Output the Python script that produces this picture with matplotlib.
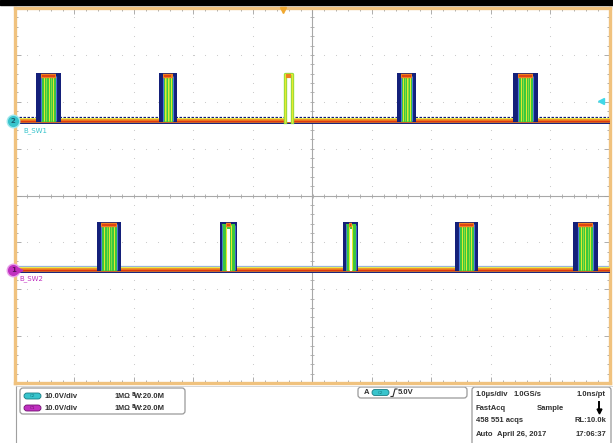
import numpy as np
import matplotlib
matplotlib.use("Agg")
import matplotlib.pyplot as plt
from matplotlib.patches import FancyBboxPatch, Rectangle

# time in us (1.0 us/div, 10 div), amplitude in V (10 V/div)
ch1_rise_start = [-4.65, -2.58, -0.46, 1.42, 3.37]
ch1_rise_end = [-4.56, -2.51, -0.46, 1.49, 3.45]
ch1_fall_start = [-4.31, -2.35, -0.35, 1.67, 3.71]
ch1_fall_end = [-4.23, -2.28, -0.35, 1.74, 3.79]
ch1_high = 10.0
ch1_pos = 1.59  # div

ch2_rise_start = [-3.62, -1.56, 0.52, 2.40, 4.38]
ch2_rise_end = [-3.55, -1.45, 0.61, 2.46, 4.46]
ch2_fall_start = [-3.29, -1.37, 0.67, 2.71, 4.71]
ch2_fall_end = [-3.22, -1.27, 0.77, 2.78, 4.80]
ch2_high = 10.0
ch2_pos = -1.58

volts_per_div = 10.0
trig_time = -0.5
trig_level = 5.0

NAVY = "#14207a"
BLUE = "#4a78d8"
GREEN = "#3cc83c"
GREEN_L = "#8edc3c"
YELLOW = "#e8e830"
ORANGE = "#f08020"
RED = "#e03810"
FRAME = "#f0c27e"
CYAN = "#38c4cc"
MAGENTA = "#c030c0"


def draw_pulse(ax, pos, r0, r1, f0, f1, high):
    top = pos + high / volts_per_div
    foot = pos - 0.03
    if r1 - r0 < 0.01:
        # single clean trace
        ax.fill_between([r0, f1], foot, top, color="white", lw=0, zorder=4)
        xs = [r0, r0, f1, f1]
        ys = [foot, top, top, foot]
        ax.plot(xs, ys, color=GREEN_L, lw=2.4, zorder=5)
        ax.plot(xs, ys, color=YELLOW, lw=1.0, zorder=5)
        ax.plot([r0 + 0.01, f1 - 0.01], [top - 0.05] * 2, color=ORANGE, lw=3,
                solid_capstyle="butt", zorder=6)
        return
    ax.fill_between([r0, f1], foot, top + 0.02, color=NAVY, lw=0, zorder=4)
    if f0 - r1 < 0.12:
        ax.fill_between([r0 + 0.035, f1 - 0.035], foot, top - 0.03, color=GREEN, lw=0, zorder=4)
        ax.fill_between([r1 + 0.012, f0 - 0.012], foot, top - 0.14, color="white", lw=0, zorder=5)
        ax.vlines([r1, f0], pos, top - 0.05, color=YELLOW, lw=0.8, zorder=5)
        ax.vlines([r0 + 0.035, f1 - 0.035], pos, top - 0.05, color=BLUE, lw=0.6, zorder=5)
    else:
        ax.fill_between([r1, f0], foot, top - 0.03, color=GREEN, lw=0, zorder=4)
        ax.vlines([r1, f0], pos, top - 0.03, color=BLUE, lw=0.8, zorder=5)
        w = f0 - r1
        ax.vlines([r1 + 0.2 * w, r1 + 0.5 * w, f0 - 0.2 * w], pos, top - 0.05,
                  color=YELLOW, lw=0.7, zorder=5)
        ax.vlines([r1 + 0.35 * w, f0 - 0.35 * w], pos, top - 0.05,
                  color=GREEN_L, lw=0.7, zorder=5)
    ax.plot([r1, f0], [top - 0.05] * 2, color=ORANGE, lw=3.2, solid_capstyle="butt", zorder=6)
    ax.plot([r1 + 0.02, f0 - 0.02], [top - 0.05] * 2, color=RED, lw=1.2,
            solid_capstyle="butt", zorder=6)


def draw_baseline(ax, pos, noise_color, noise_ls):
    ax.plot([-5, 5], [pos + 0.08] * 2, color=noise_color, lw=0.9, ls=noise_ls, zorder=2)
    ax.plot([-5, 5], [pos - 0.045] * 2, color=NAVY, lw=1.4, zorder=3)
    ax.plot([-5, 5], [pos + 0.04] * 2, color=YELLOW, lw=1.2, zorder=3)
    ax.plot([-5, 5], [pos, pos], color=ORANGE, lw=2.6, zorder=3)
    ax.plot([-5, 5], [pos, pos], color=RED, lw=0.9, zorder=3)


fig = plt.figure(figsize=(6.13, 4.43), dpi=100)
fig.patch.set_facecolor("white")
ax = fig.add_axes([15 / 613, 60 / 443, 595 / 613, 375 / 443])
ax.set_xlim(-5, 5)
ax.set_ylim(-4, 4)
for s in ax.spines.values():
    s.set_color(FRAME)
    s.set_linewidth(2.4)
ax.set_xticks(np.arange(-5, 5.01, 1))
ax.set_yticks(np.arange(-4, 4.01, 1))
ax.set_xticks(np.arange(-5, 5.01, 0.2), minor=True)
ax.set_yticks(np.arange(-4, 4.01, 0.2), minor=True)
ax.tick_params(which="both", direction="in", top=True, right=True,
               labelbottom=False, labelleft=False, color="#a0a0a0", width=0.6)
ax.tick_params(which="major", length=4)
ax.tick_params(which="minor", length=2.5)

# graticule dots
for gx in range(-4, 5):
    if gx != 0:
        yy = np.arange(-4, 4.01, 0.2)
        ax.scatter(np.full(yy.size, gx), yy, s=0.6, color="#c4c4c4", lw=0, zorder=1)
for gy in range(-3, 4):
    if gy != 0:
        xx = np.arange(-5, 5.01, 0.2)
        ax.scatter(xx, np.full(xx.size, gy), s=0.6, color="#c4c4c4", lw=0, zorder=1)
ax.axhline(0, color="#a8a8a8", lw=0.8, zorder=1)
ax.axvline(0, color="#a8a8a8", lw=0.8, zorder=1)
tx = np.arange(-5, 5.01, 0.2)
ax.scatter(tx, np.zeros(tx.size), marker="|", s=10, color="#a8a8a8", lw=0.6, zorder=1)
ty = np.arange(-4, 4.01, 0.2)
ax.scatter(np.zeros(ty.size), ty, marker="_", s=10, color="#a8a8a8", lw=0.6, zorder=1)

draw_baseline(ax, ch1_pos, NAVY, (0, (2, 1.2)))
draw_baseline(ax, ch2_pos, "#9ab4d8", "-")
for i in range(len(ch1_rise_start)):
    draw_pulse(ax, ch1_pos, ch1_rise_start[i], ch1_rise_end[i],
               ch1_fall_start[i], ch1_fall_end[i], ch1_high)
for i in range(len(ch2_rise_start)):
    draw_pulse(ax, ch2_pos, ch2_rise_start[i], ch2_rise_end[i],
               ch2_fall_start[i], ch2_fall_end[i], ch2_high)

# channel markers
ax.plot(-5.03, ch1_pos, "o", ms=9, mfc=CYAN, mec="#a0e8ee", clip_on=False, zorder=10)
ax.text(-5.03, ch1_pos, "2", color="#1a6070", fontsize=5, fontweight="bold",
        ha="center", va="center", zorder=11, clip_on=False)
ax.text(-4.86, ch1_pos - 0.2, "B_SW1", color=CYAN, fontsize=5, va="center", zorder=11)
ax.plot(-5.03, ch2_pos, "o", ms=9, mfc=MAGENTA, mec="#e8a0e8", clip_on=False, zorder=10)
ax.plot(-4.92, ch2_pos, ">", ms=3.5, color=MAGENTA, clip_on=False, zorder=10)
ax.text(-5.03, ch2_pos, "1", color="#601060", fontsize=5, fontweight="bold",
        ha="center", va="center", zorder=11, clip_on=False)
ax.text(-4.92, ch2_pos - 0.2, "B_SW2", color=MAGENTA, fontsize=5, va="center", zorder=11)
ax.plot(trig_time, 3.95, "v", ms=5, color="#f0a830", clip_on=False, zorder=10)
ax.plot(4.85, ch1_pos + trig_level / volts_per_div - 0.08, "<", ms=4, color="#40d8e8", zorder=10)

# readout panel
ov = fig.add_axes([0, 0, 1, 1])
ov.set_xlim(0, 613)
ov.set_ylim(443, 0)
ov.axis("off")
ov.patch.set_alpha(0)
ov.add_patch(Rectangle((0, 0), 613, 5, color="black"))
ov.plot([16, 16], [386, 443], color="#a0a0a0", lw=0.8)
ov.plot([16, 613], [386, 386], color="#d0d0d0", lw=0.6)


def box(x, y, w, h):
    ov.add_patch(FancyBboxPatch((x, y), w, h, boxstyle="round,pad=0,rounding_size=3",
                                fc="white", ec="#9a9a9a", lw=0.9))


def pill(x, y, color, edge, label):
    ov.add_patch(FancyBboxPatch((x, y), 17, 6, boxstyle="round,pad=0,rounding_size=3",
                                fc=color, ec=edge, lw=0.6))
    ov.text(x + 8.5, y + 3, label, fontsize=3, color=edge, ha="center", va="center")


tk = dict(fontsize=5.5, fontweight="bold", color="#303030", va="center",
          family="Liberation Sans")
box(20, 388, 165, 26)
pill(24, 393, CYAN, "#187c84", "C2")
pill(24, 405, MAGENTA, "#701070", "C1")
for yy in (396, 408):
    ov.text(45, yy, "10.0V/div", **tk)
    ov.text(114, yy, "1M\u03a9", fontsize=5.2, fontweight="bold", color="#303030",
            va="center", family="Liberation Sans")
    ov.text(131, yy - 2, "B", fontsize=3.5, fontweight="bold", color="#303030", va="center")
    ov.text(134, yy + 0.8, "W:20.0M", **tk)

box(358, 387, 109, 11)
ov.text(364, 392.5, "A", **tk)
pill(372, 389.5, CYAN, "#187c84", "C2")
ov.plot([391, 393, 395, 397], [396.5, 396.5, 389, 389], color="#303030", lw=0.8)
ov.text(398, 392.5, "5.0V", **tk)

box(472, 387, 139, 62)
ov.text(476, 395, "1.0\u00b5s/div", **tk)
ov.text(514, 395, "1.0GS/s", **tk)
ov.text(606, 395, "1.0ns/pt", ha="right", **tk)
ov.text(476, 408, "FastAcq", **tk)
ov.text(537, 408, "Sample", **tk)
ov.plot([599, 599], [402, 410], color="black", lw=1.4)
ov.plot(599, 411, "v", ms=3.5, color="black")
ov.text(476, 421, "458 551 acqs", **tk)
ov.text(606, 421, "RL:10.0k", ha="right", **tk)
ov.text(476, 434, "Auto", **tk)
ov.text(497, 434, "April 26, 2017", **tk)
ov.text(606, 434, "17:06:37", ha="right", **tk)

fig.savefig("out.png", dpi=100)
